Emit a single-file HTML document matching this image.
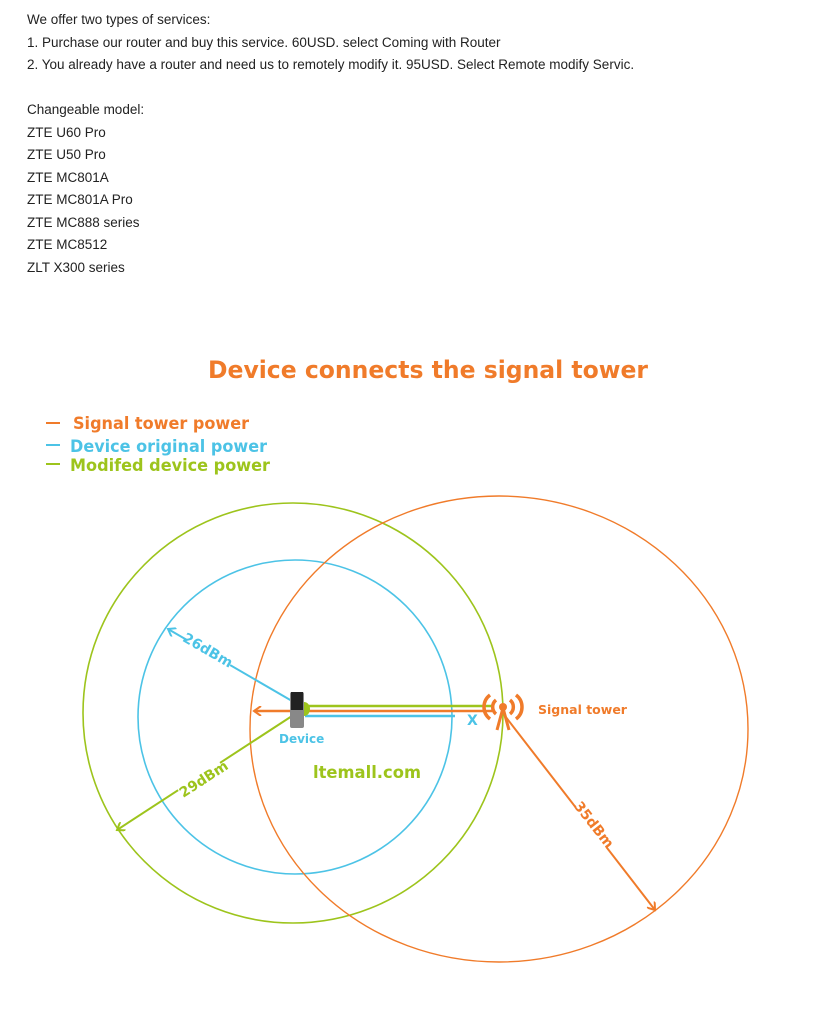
<!DOCTYPE html>
<html><head><meta charset="utf-8"><style>
body{margin:0;width:829px;height:1024px;background:#fff;position:relative;overflow:hidden;font-family:"Liberation Sans",sans-serif}
.t{position:absolute;left:27px;font-size:13.5px;color:#222;line-height:22.5px;top:9px}
</style></head><body>
<div class="t">We offer two types of services:<br>1. Purchase our router and buy this service. 60USD. select Coming with Router<br>2. You already have a router and need us to remotely modify it. 95USD. Select Remote modify Servic.<br><br>Changeable model:<br>ZTE U60 Pro<br>ZTE U50 Pro<br>ZTE MC801A<br>ZTE MC801A Pro<br>ZTE MC888 series<br>ZTE MC8512<br>ZLT X300 series</div>
<svg width="829" height="1024" style="position:absolute;left:0;top:0" font-family="DejaVu Sans, sans-serif" font-weight="bold">
<defs>
<marker id="ao" markerWidth="10" markerHeight="10" refX="8" refY="5" orient="auto" markerUnits="userSpaceOnUse"><path d="M1,0 L8,5 L1,10" fill="none" stroke="#f07b2a" stroke-width="2"/></marker>
<marker id="ab" markerWidth="10" markerHeight="10" refX="8" refY="5" orient="auto" markerUnits="userSpaceOnUse"><path d="M1,0 L8,5 L1,10" fill="none" stroke="#4cc3e6" stroke-width="2"/></marker>
<marker id="ag" markerWidth="10" markerHeight="10" refX="8" refY="5" orient="auto" markerUnits="userSpaceOnUse"><path d="M1,0 L8,5 L1,10" fill="none" stroke="#9dc41c" stroke-width="2"/></marker>
</defs>
<text x="428" y="378" text-anchor="middle" font-size="24" textLength="440" lengthAdjust="spacingAndGlyphs" fill="#f07b2a">Device connects the signal tower</text>
<line x1="46" y1="423" x2="60" y2="423" stroke="#f07b2a" stroke-width="2"/>
<text x="73" y="429" font-size="16.5" textLength="176" lengthAdjust="spacingAndGlyphs" fill="#f07b2a">Signal tower power</text>
<line x1="46" y1="445" x2="60" y2="445" stroke="#4cc3e6" stroke-width="2"/>
<text x="70" y="452" font-size="16.5" textLength="197" lengthAdjust="spacingAndGlyphs" fill="#4cc3e6">Device original power</text>
<line x1="46" y1="464" x2="60" y2="464" stroke="#9dc41c" stroke-width="2"/>
<text x="70" y="471" font-size="16.5" textLength="200" lengthAdjust="spacingAndGlyphs" fill="#9dc41c">Modifed device power</text>
<circle cx="293" cy="713" r="210" fill="none" stroke="#9dc41c" stroke-width="1.6"/>
<circle cx="295" cy="717" r="157" fill="none" stroke="#4cc3e6" stroke-width="1.6"/>
<ellipse cx="499" cy="729" rx="249" ry="233" fill="none" stroke="#f07b2a" stroke-width="1.4"/>
<line x1="305" y1="706" x2="492" y2="706" stroke="#9dc41c" stroke-width="2.5"/>
<line x1="492" y1="711" x2="254" y2="711" stroke="#f07b2a" stroke-width="2.5" marker-end="url(#ao)"/>
<line x1="305" y1="716" x2="455" y2="716" stroke="#4cc3e6" stroke-width="2.5"/>
<line x1="292" y1="701" x2="168" y2="629" stroke="#4cc3e6" stroke-width="2" marker-end="url(#ab)"/>
<line x1="292" y1="716" x2="117" y2="830" stroke="#9dc41c" stroke-width="2" marker-end="url(#ag)"/>
<line x1="505" y1="716" x2="655" y2="910" stroke="#f07b2a" stroke-width="2" marker-end="url(#ao)"/>
<rect x="185" y="638" width="50" height="24" fill="#fff" transform="rotate(30 210 650)"/>
<text x="208" y="655" font-size="14" fill="#4cc3e6" text-anchor="middle" transform="rotate(30 208 650)">26dBm</text>
<rect x="175" y="766" width="50" height="24" fill="#fff" transform="rotate(-33 200 778)"/>
<text x="203" y="784" font-size="14" fill="#9dc41c" text-anchor="middle" transform="rotate(-33 203 778)">29dBm</text>
<rect x="570" y="812" width="50" height="24" fill="#fff" transform="rotate(52 595 824)"/>
<text x="595" y="830" font-size="14" fill="#f07b2a" text-anchor="middle" transform="rotate(52 595 824)">35dBm</text>
<rect x="290" y="692" width="14" height="36" rx="2" fill="#888"/>
<rect x="291" y="692" width="12" height="18" fill="#222"/>
<path d="M304,702 a6,7 0 0 1 0,14z" fill="#9dc41c"/>
<text x="279" y="743" font-size="12" fill="#4cc3e6">Device</text>
<text x="467" y="725" font-size="14" fill="#4cc3e6">X</text>
<g stroke="#f07b2a" fill="none" stroke-width="3.5">
<path d="M496,700 a9,9 0 0 0 0,14"/><path d="M510,700 a9,9 0 0 1 0,14"/>
<path d="M490,695 a15,15 0 0 0 0,24"/><path d="M516,695 a15,15 0 0 1 0,24"/>
<path d="M497,730 L503,708 L509,730" stroke-width="3"/>
</g>
<circle cx="503" cy="707" r="4" fill="#f07b2a"/>
<text x="538" y="714" font-size="12.5" fill="#f07b2a">Signal tower</text>
<text x="313" y="778" font-size="17" textLength="108" lengthAdjust="spacingAndGlyphs" fill="#9dc41c">ltemall.com</text>
</svg>
</body></html>
